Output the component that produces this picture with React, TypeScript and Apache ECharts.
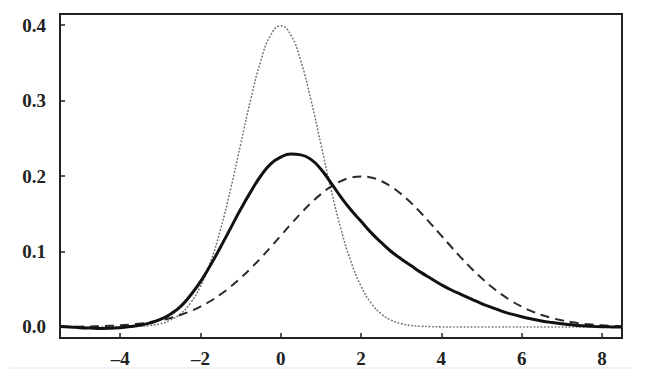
import React, { useEffect, useRef } from 'react';
import * as echarts from 'echarts';

const xValues = [
  -5.5, -5.25, -5, -4.75, -4.5, -4.25, -4, -3.75, -3.5, -3.25, -3, -2.75, -2.5, -2.25, -2, -1.75,
  -1.5, -1.25, -1, -0.75, -0.5, -0.25, 0, 0.25, 0.5, 0.75, 1, 1.25, 1.5, 1.75, 2, 2.25, 2.5, 2.75,
  3, 3.25, 3.5, 3.75, 4, 4.25, 4.5, 4.75, 5, 5.25, 5.5, 5.75, 6, 6.25, 6.5, 6.75, 7, 7.25, 7.5,
  7.75, 8, 8.25, 8.5,
];

// dotted curve (narrow, peak 0.4 at 0)
const dottedValues = [
  0, 0, 0, 0, 0, 0, 0.0001, 0.0004, 0.0009, 0.002, 0.0044, 0.0091, 0.0175, 0.0317, 0.054, 0.0863,
  0.1295, 0.1826, 0.242, 0.3011, 0.3521, 0.3867, 0.3989, 0.3867, 0.3521, 0.3011, 0.242, 0.1826,
  0.1295, 0.0863, 0.054, 0.0317, 0.0175, 0.0091, 0.0044, 0.002, 0.0009, 0.0004, 0.0001, 0, 0, 0,
  0, 0, 0, 0, 0, 0, 0, 0, 0, 0, 0, 0, 0, 0, 0,
];

// dashed curve (wide, peak 0.2 at 2)
const dashedValues = [
  0.0002, 0.0003, 0.0004, 0.0007, 0.001, 0.0015, 0.0022, 0.0032, 0.0045, 0.0064, 0.0088, 0.0119,
  0.0159, 0.0209, 0.027, 0.0344, 0.0432, 0.0533, 0.0648, 0.0775, 0.0913, 0.1059, 0.121, 0.136,
  0.1506, 0.1641, 0.176, 0.1859, 0.1933, 0.1979, 0.1995, 0.1979, 0.1933, 0.1859, 0.176, 0.1641,
  0.1506, 0.136, 0.121, 0.1059, 0.0913, 0.0775, 0.0648, 0.0533, 0.0432, 0.0344, 0.027, 0.0209,
  0.0159, 0.0119, 0.0088, 0.0064, 0.0045, 0.0032, 0.0022, 0.0015, 0.001,
];

// solid curve (skewed, peak 0.23 near 0.25)
const solidValues = [
  0.0005, 0, -0.001, -0.0015, -0.002, -0.0018, -0.001, 0.0005, 0.0025, 0.0055, 0.01, 0.017, 0.027,
  0.042, 0.06, 0.082, 0.106, 0.131, 0.156, 0.179, 0.2, 0.216, 0.225, 0.229, 0.228, 0.222, 0.209,
  0.191, 0.172, 0.155, 0.14, 0.125, 0.112, 0.1, 0.09, 0.081, 0.072, 0.064, 0.056, 0.049, 0.043,
  0.037, 0.031, 0.026, 0.021, 0.017, 0.0135, 0.0105, 0.008, 0.006, 0.0043, 0.0028, 0.0016, 0.0008,
  0.0003, 0.0001, 0,
];

const xTickValues = [-4, -2, 0, 2, 4, 6, 8];
const xTickLabels = ['\u20134', '\u20132', '0', '2', '4', '6', '8'];
const yTickValues = [0, 0.1, 0.2, 0.3, 0.4];
const yTickLabels = ['0.0', '0.1', '0.2', '0.3', '0.4'];

const labelFont = {
  fontFamily: 'Liberation Serif',
  fontWeight: 'bold' as const,
  fontSize: 19,
  color: '#222',
};

export default function App() {
  const ref = useRef<HTMLDivElement>(null);

  useEffect(() => {
    if (!ref.current) return;
    const chart = echarts.init(ref.current, null, { renderer: 'svg' });
    const pairs = (ys: number[]) => xValues.map((x, i) => [x, ys[i]]);
    const findLabel = (vals: number[], labels: string[], v: number) => {
      const i = vals.findIndex((t) => Math.abs(t - v) < 1e-6);
      return i >= 0 ? labels[i] : '';
    };

    chart.setOption({
      animation: false,
      backgroundColor: '#ffffff',
      grid: {
        left: 60,
        right: 28,
        top: 14,
        bottom: 47,
        show: true,
        borderColor: '#222',
        borderWidth: 2,
        backgroundColor: 'transparent',
      },
      xAxis: {
        type: 'value',
        min: -5.5,
        max: 8.5,
        axisLine: { show: true, onZero: false, lineStyle: { color: '#222', width: 2 } },
        axisTick: {
          show: true,
          inside: true,
          length: 5,
          customValues: xTickValues,
          lineStyle: { color: '#222', width: 1.5 },
        },
        axisLabel: {
          ...labelFont,
          margin: 11,
          customValues: xTickValues,
          formatter: (v: number) => findLabel(xTickValues, xTickLabels, v),
        },
        splitLine: { show: false },
      },
      yAxis: {
        type: 'value',
        min: -0.0146,
        max: 0.4146,
        axisLine: { show: true, onZero: false, lineStyle: { color: '#222', width: 2 } },
        axisTick: {
          show: true,
          inside: true,
          length: 5,
          customValues: yTickValues,
          lineStyle: { color: '#222', width: 1.5 },
        },
        axisLabel: {
          ...labelFont,
          margin: 14,
          customValues: yTickValues,
          formatter: (v: number) => findLabel(yTickValues, yTickLabels, v),
        },
        splitLine: { show: false },
      },
      graphic: [
        {
          type: 'line',
          shape: { x1: 10, y1: 368, x2: 631, y2: 368 },
          style: { stroke: '#e4e4e4', lineWidth: 1 },
          silent: true,
        },
      ],
      series: [
        {
          name: 'dotted',
          type: 'line',
          data: pairs(dottedValues),
          smooth: 0.5,
          showSymbol: false,
          lineStyle: { color: '#727272', width: 1.6, type: [0.5, 3], cap: 'round' },
          z: 2,
        },
        {
          name: 'dashed',
          type: 'line',
          data: pairs(dashedValues),
          smooth: 0.5,
          showSymbol: false,
          lineStyle: { color: '#2a2a2a', width: 2, type: [9, 6] },
          z: 3,
        },
        {
          name: 'solid',
          type: 'line',
          data: pairs(solidValues),
          smooth: 0.5,
          showSymbol: false,
          lineStyle: { color: '#111', width: 3 },
          z: 4,
        },
      ],
    });

    return () => chart.dispose();
  }, []);

  return (
    <div
      ref={ref}
      style={{ position: 'absolute', left: 0, top: 0, width: 650, height: 385 }}
    />
  );
}
